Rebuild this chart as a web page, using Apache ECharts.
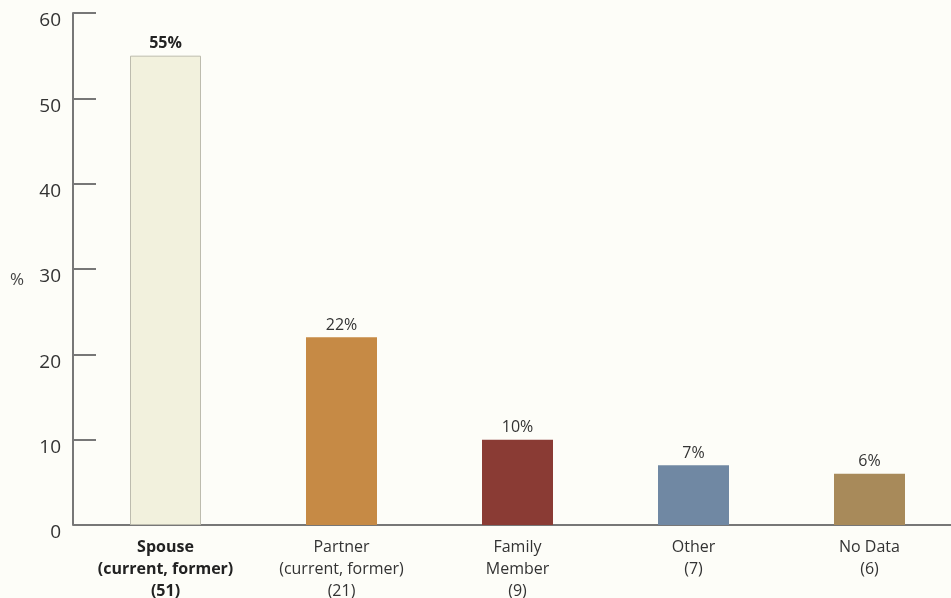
<!DOCTYPE html>
<html>
<head>
<meta charset="utf-8">
<script src="https://cdn.jsdelivr.net/npm/echarts@6/dist/echarts.min.js"></script>
<style>
html,body{margin:0;padding:0;background:#fdfdf8;}
#chart{width:951px;height:598px;}
</style>
</head>
<body>
<div id="chart"></div>
<script>
var categories = ['Spouse\n(current, former)', 'Partner\n(current, former)', 'Family\nMember', 'Other', 'No Data'];
var counts = [51, 21, 9, 7, 6];
var percents = [55, 22, 10, 7, 6];
var yTicks = [0, 10, 20, 30, 40, 50, 60];

var barColors = ['#f2f1dd', '#c68a45', '#8a3b34', '#7088a3', '#a88a5a'];

var chart = echarts.init(document.getElementById('chart'));
var labels = categories.map(function (c, i) { return c + '\n(' + counts[i] + ')'; });

chart.setOption({
  backgroundColor: '#fdfdf8',
  animation: false,
  textStyle: { fontFamily: 'Open Sans' },
  grid: { left: 77.5, width: 880, top: 13, bottom: 73, containLabel: false, outerBoundsMode: 'none' },
  xAxis: {
    type: 'category',
    data: labels,
    axisLine: { lineStyle: { color: '#777', width: 2 } },
    axisTick: { show: false },
    axisLabel: {
      interval: 0,
      color: '#333',
      fontSize: 16,
      lineHeight: 22,
      margin: 11,
      formatter: function (v, i) {
        if (i === 0) {
          return v.split('\n').map(function (l) { return '{b|' + l + '}'; }).join('\n');
        }
        return v;
      },
      rich: { b: { fontWeight: 'bold', fontSize: 16, lineHeight: 22, color: '#222', fontFamily: 'Open Sans' } }
    }
  },
  yAxis: {
    type: 'value',
    min: yTicks[0],
    max: yTicks[yTicks.length - 1],
    interval: 10,
    offset: 4.5,
    name: '%',
    nameLocation: 'middle',
    nameRotate: 0,
    nameGap: 49,
    nameTextStyle: { color: '#444', fontSize: 17, verticalAlign: 'top', lineHeight: 22 },
    axisLine: { show: true, lineStyle: { color: '#777', width: 2 } },
    axisTick: { show: true, inside: true, length: 23, lineStyle: { color: '#777', width: 2 } },
    splitLine: { show: false },
    axisLabel: { color: '#333', fontSize: 19, margin: 12, verticalAlign: 'top', lineHeight: 16 }
  },
  series: [{
    type: 'bar',
    barWidth: 71,
    data: percents.map(function (v, i) {
      return {
        value: v,
        itemStyle: i === 0 ? { color: barColors[i], borderColor: '#bdbcae', borderWidth: 1 } : { color: barColors[i] },
        label: i === 0 ? { fontWeight: 'bold', color: '#222' } : {}
      };
    }),
    label: {
      show: true,
      position: 'top',
      distance: 4,
      formatter: '{c}%',
      color: '#333',
      fontSize: 16
    }
  }]
});
</script>
</body>
</html>
